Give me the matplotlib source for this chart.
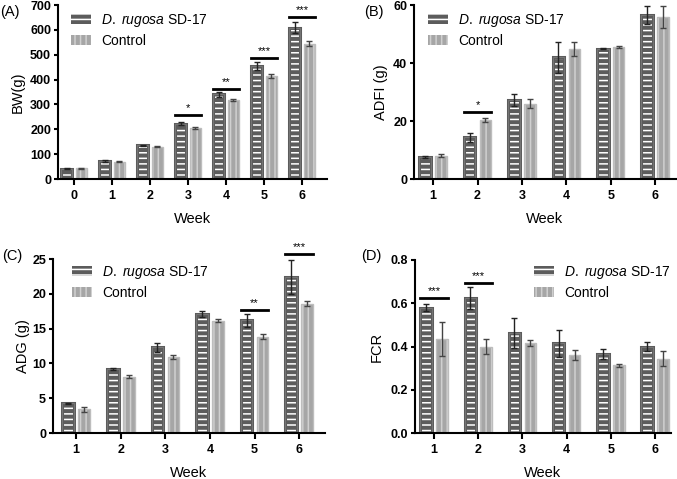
import numpy as np
import matplotlib
matplotlib.use("Agg")
import matplotlib.pyplot as plt

plt.rcParams['font.family'] = ['Liberation Sans', 'DejaVu Sans']
plt.rcParams['mathtext.fontset'] = 'custom'
plt.rcParams['mathtext.it'] = 'Liberation Sans:italic'
plt.rcParams['mathtext.rm'] = 'Liberation Sans'
plt.rcParams['hatch.linewidth'] = 1.1

# data (mean, error)
bw_weeks = [0, 1, 2, 3, 4, 5, 6]
bw_treat = [42, 72, 135, 222, 340, 454, 608]
bw_treat_err = [3, 3, 3, 6, 9, 15, 22]
bw_ctrl = [43, 70, 130, 205, 317, 413, 545]
bw_ctrl_err = [2, 2, 2, 3, 5, 8, 10]
bw_sig = {3: (256, '*'), 4: (362, '**'), 5: (488, '***'), 6: (650, '***')}

adfi_weeks = [1, 2, 3, 4, 5, 6]
adfi_treat = [7.6, 14.4, 27.2, 42.0, 45.0, 56.5]
adfi_treat_err = [0.4, 1.6, 2.0, 5.3, 0.2, 3.0]
adfi_ctrl = [8.0, 20.4, 26.0, 44.8, 45.6, 55.7]
adfi_ctrl_err = [0.5, 0.8, 1.6, 2.3, 0.4, 3.8]
adfi_sig = {2: (23.2, '*')}

adg_weeks = [1, 2, 3, 4, 5, 6]
adg_treat = [4.25, 9.2, 12.3, 17.1, 16.2, 22.4]
adg_treat_err = [0.05, 0.2, 0.7, 0.45, 0.9, 2.4]
adg_ctrl = [3.4, 8.1, 10.9, 16.15, 13.85, 18.6]
adg_ctrl_err = [0.35, 0.25, 0.3, 0.2, 0.35, 0.3]
adg_sig = {5: (17.7, '**'), 6: (25.7, '***')}

fcr_weeks = [1, 2, 3, 4, 5, 6]
fcr_treat = [0.58, 0.623, 0.462, 0.415, 0.365, 0.40]
fcr_treat_err = [0.015, 0.05, 0.068, 0.063, 0.023, 0.02]
fcr_ctrl = [0.434, 0.40, 0.415, 0.36, 0.313, 0.343]
fcr_ctrl_err = [0.08, 0.035, 0.013, 0.024, 0.008, 0.035]
fcr_sig = {1: (0.623, '***'), 2: (0.695, '***')}

treat_label = r"$\it{D.\ rugosa}$ SD-17"
ctrl_label = "Control"

DARK, DARK_EDGE = '#5c5c5c', '#767676'
LIGHT, LIGHT_EDGE = '#a6a6a6', '#bdbdbd'

fig = plt.figure(figsize=(6.77, 4.79), dpi=100)
W, H = 677, 479


def px_axes(l, t, r, b):
    return fig.add_axes([l / W, 1 - b / H, (r - l) / W, (b - t) / H])


def panel(ax, weeks, t, te, c, ce, sig, width, off, ylim, yticks, ylabel,
          xlim, tag, tagpos, legpos, ylabpos):
    x = np.array(weeks, dtype=float)
    ax.bar(x - off, t, width, color=DARK, edgecolor='white', linewidth=0,
           hatch='---', label=treat_label, zorder=2)
    ax.bar(x - off, t, width, fill=False, edgecolor=DARK, linewidth=2.2, zorder=2)
    ax.bar(x - off, t, width, fill=False, edgecolor=DARK_EDGE, linewidth=0.7, zorder=2)
    ax.bar(x + off, c, width, color=LIGHT, edgecolor='#d0d0d0', linewidth=0,
           hatch='|||', label=ctrl_label, zorder=2)
    ax.bar(x + off, c, width, fill=False, edgecolor=LIGHT_EDGE, linewidth=1, zorder=2)
    ax.errorbar(x - off, t, yerr=te, fmt='none', ecolor='#222222', elinewidth=1,
                capsize=2.5, capthick=1, zorder=3)
    ax.errorbar(x + off, c, yerr=ce, fmt='none', ecolor='#444444', elinewidth=1,
                capsize=2.5, capthick=1, zorder=3)
    for wk, (yv, stars) in sig.items():
        ax.plot([wk - off - width / 2, wk + off + width / 2], [yv, yv],
                color='black', lw=2, clip_on=False, zorder=4)
        ax.annotate(stars, (wk, yv), xytext=(0, 1.5), textcoords='offset points',
                    ha='center', va='bottom', fontsize=8, annotation_clip=False)
    ax.set_xlim(*xlim)
    ax.set_ylim(*ylim)
    ax.set_xticks(weeks)
    ax.set_yticks(yticks)
    ax.set_yticklabels([f"{v:.1f}" if isinstance(v, float) and v < 1.5 else str(v)
                        for v in yticks])
    for s in ['top', 'right']:
        ax.spines[s].set_visible(False)
    for s in ['left', 'bottom']:
        ax.spines[s].set_linewidth(1.5)
    ax.tick_params(axis='y', width=1.5, length=3, labelsize=9, pad=2)
    ax.tick_params(axis='x', width=1.5, length=4, labelsize=9, pad=4)
    for lab in ax.get_xticklabels() + ax.get_yticklabels():
        lab.set_fontweight('bold')
    ax.set_xlabel('Week', fontsize=10.5, labelpad=7)
    ax.set_ylabel(ylabel, fontsize=10.5)
    ax.yaxis.set_label_coords(ylabpos, 0.5)
    fig.text(tagpos[0] / W, 1 - tagpos[1] / H, tag, fontsize=10.5,
             ha='left', va='center')
    ax.legend(loc='upper left', bbox_to_anchor=(legpos[0] / W, 1 - legpos[1] / H),
              bbox_transform=fig.transFigure, frameon=False, fontsize=10,
              borderpad=0, borderaxespad=0, handlelength=1.45, handleheight=0.72,
              handletextpad=0.7, labelspacing=0.35)


axA = px_axes(58, 5, 327, 179)
panel(axA, bw_weeks, bw_treat, bw_treat_err, bw_ctrl, bw_ctrl_err, bw_sig,
      0.29, 0.19, (0, 700), list(range(0, 701, 100)), 'BW(g)', (-0.42, 6.66),
      '(A)', (0, 12), (71, 12), -0.123)

axB = px_axes(414, 5, 676, 179)
panel(axB, adfi_weeks, adfi_treat, adfi_treat_err, adfi_ctrl, adfi_ctrl_err, adfi_sig,
      0.26, 0.18, (0, 60), [0, 20, 40, 60], 'ADFI (g)', (0.57, 6.47),
      '(B)', (364, 12), (428, 12), -0.099)

axC = px_axes(53, 259, 325, 433)
panel(axC, adg_weeks, adg_treat, adg_treat_err, adg_ctrl, adg_ctrl_err, adg_sig,
      0.26, 0.18, (0, 25), [0, 5, 10, 15, 20, 25], 'ADG (g)', (0.48, 6.58),
      '(C)', (2, 256), (72, 264), -0.085)

axD = px_axes(415, 260, 671, 433)
panel(axD, fcr_weeks, fcr_treat, fcr_treat_err, fcr_ctrl, fcr_ctrl_err, fcr_sig,
      0.26, 0.18, (0, 0.8), [0.0, 0.2, 0.4, 0.6, 0.8], 'FCR', (0.57, 6.36),
      '(D)', (361, 256), (534, 264), -0.121)

fig.savefig('out.png', dpi=100)
